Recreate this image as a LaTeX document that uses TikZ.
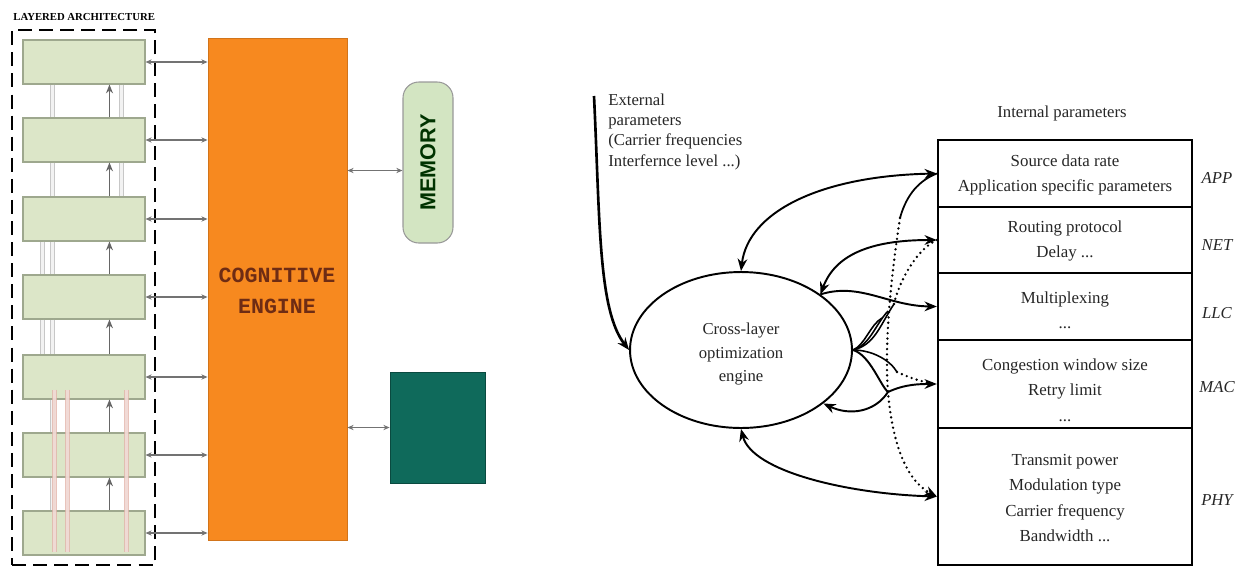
\documentclass[tikz,border=0pt]{standalone}
\usepackage{fontspec}
\setmainfont{Liberation Serif}
\newfontfamily\cmono{Liberation Mono}
\newfontfamily\csans{Liberation Sans}
\usetikzlibrary{arrows.meta,fit,shapes.geometric,calc}
\definecolor{boxgreen}{HTML}{DCE6C8}
\definecolor{boxedge}{HTML}{9EA88E}
\definecolor{engorange}{HTML}{F7891F}
\definecolor{engtext}{HTML}{6E2C14}
\definecolor{memfill}{HTML}{D3E5C2}
\definecolor{tealbox}{HTML}{0F6A5B}
\definecolor{pinkline}{HTML}{E2B4AA}
\begin{document}
\begin{tikzpicture}[x=0.02cm,y=-0.02cm,
  gbox/.style={draw=boxedge, fill=boxgreen, line width=0.6pt, inner sep=0pt},
  lbox/.style={draw=black, line width=1.3pt, inner sep=0pt},
  ltext/.style={align=center, inner sep=0pt, text=black!85, font=\fontsize{9.6}{14.5}\selectfont},
  harr/.style={{Stealth[length=3.5pt,width=3pt]}-{Stealth[length=3.5pt,width=3pt]}, draw=black!55, line width=0.8pt},
  carr/.style={-{Stealth[length=7pt,width=5.5pt]}, line width=1.1pt},
  carrb/.style={{Stealth[length=7pt,width=5.5pt]}-{Stealth[length=7pt,width=5.5pt]}, line width=1.1pt},
  dotline/.style={line width=1.5pt, dash pattern=on 0pt off 3pt, line cap=round},
  lightpair/.style={draw=black!22, double=black!5, double distance=1.6pt, line width=0.7pt},
  pinkpair/.style={draw=pinkline, double=pinkline!40, double distance=1.4pt, line width=0.7pt, opacity=0.8},
  uparr/.style={-{Stealth[length=5pt,width=4pt]}, draw=black!60, line width=0.9pt},
  layerlab/.style={font=\itshape\fontsize{9.5}{11}\selectfont, text=black!85}
]
\useasboundingbox (0,0) rectangle (1244,569);

% ---------------- left panel ----------------
\node[font=\bfseries\fontsize{6.1}{6.5}\selectfont, inner sep=0pt, anchor=west] (ttl) at (13,17) {LAYERED ARCHITECTURE};
\node[draw, line width=1.3pt, dash pattern=on 8pt off 4pt, inner sep=0pt, fit={(12,30)(155,565)}] (la) {};
\foreach \i/\t in {1/40,2/118,3/197,4/275,5/355,6/433,7/511}
  \node[gbox, fit={(23,\t)(145,\t+44)}] (b\i) {};

\foreach \i/\j in {1/2,2/3,3/4,4/5,5/6,6/7}{
  \draw[lightpair] ($(b\i.south west)+(30,0)$) -- ($(b\j.north west)+(30,0)$);
  \draw[uparr] ($(b\j.north west)+(87,0)$) -- ($(b\i.south west)+(87,0)$);
}
\foreach \i/\j in {1/2,2/3}
  \draw[lightpair] ($(b\i.south west)+(99,0)$) -- ($(b\j.north west)+(99,0)$);
\foreach \i/\j in {3/4,4/5}
  \draw[lightpair] ($(b\i.south west)+(20,0)$) -- ($(b\j.north west)+(20,0)$);
\foreach \o in {32,45,104}
  \draw[pinkpair] ($(b5.south west)+(\o,-10)$) -- ($(b7.south west)+(\o,-4)$);

\node[fill=engorange, draw=engorange!85!black, line width=0.5pt, inner sep=0pt, fit={(208,38)(347,540)}] (ce) {};
\node[font=\cmono\bfseries\fontsize{12.3}{18}\selectfont, text=engtext, align=center] (cet) at (277,291) {COGNITIVE\\ENGINE};

\foreach \i in {1,...,7}
  \draw[harr] (b\i.east) -- (b\i.east -| ce.west);

\node[fill=memfill, draw=black!40, line width=0.6pt, rounded corners=9pt, inner sep=0pt, fit={(403,82)(453,243)}] (mem) {};
\node[rotate=90, font=\csans\bfseries\fontsize{12.3}{13}\selectfont, text=black!80!green] (memt) at (mem.center) {MEMORY};
\coordinate (mA) at ($(mem.west)+(0,8)$);
\draw[harr] (mA -| ce.east) -- (mA);

\node[fill=tealbox, draw=tealbox!70!black, line width=0.5pt, inner sep=0pt, fit={(390,372)(485,483)}] (tb) {};
\draw[harr] (tb.west -| ce.east) -- (tb.west);

% ---------------- right panel ----------------
\node[anchor=north west, align=left, inner sep=0pt, text=black!85, font=\fontsize{9.5}{11.4}\selectfont] (ext) at (608,94) {External\\parameters\\(Carrier frequencies\\Interfernce level ...)};
\coordinate (xs) at (594,96);

\node[ellipse, draw, line width=1.1pt, minimum width=4.44cm, minimum height=3.12cm, inner sep=0pt] (eng) at (741,350) {};
\node[ltext, font=\fontsize{9.5}{13.6}\selectfont] (engt) at (741,354) {Cross-layer\\optimization\\engine};
\draw[carr, line width=1.5pt] (xs) .. controls (600,220) and (598,310) .. (eng.west);

\node[font=\fontsize{9.5}{11}\selectfont, text=black!85] (ip) at (1062,113) {Internal parameters};

\node[lbox, fit={(938,140)(1192,207)}] (app) {};
\node[lbox, fit={(938,207)(1192,273)}] (net) {};
\node[lbox, fit={(938,273)(1192,340)}] (llc) {};
\node[lbox, fit={(938,340)(1192,428)}] (mac) {};
\node[lbox, fit={(938,428)(1192,565)}] (phy) {};
\node[ltext] (appt) at (1065,175) {Source data rate\\Application specific parameters};
\node[ltext] (nett) at (1065,241) {Routing protocol\\Delay ...};
\node[ltext] (llct) at (1065,310) {Multiplexing\\...};
\node[ltext] (mact) at (1065,390) {Congestion window size\\Retry limit\\...};
\node[ltext] (phyt) at (1065,498) {Transmit power\\Modulation type\\Carrier frequency\\Bandwidth ...};

\node[layerlab] (lapp) at (1217,178) {APP};
\node[layerlab] (lnet) at (1217,245) {NET};
\node[layerlab] (lllc) at (1217,313) {LLC};
\node[layerlab] (lmac) at (1217,387) {MAC};
\node[layerlab] (lphy) at (1217,500) {PHY};

\coordinate (j) at (888,392);
\coordinate (d0) at (900,218);
\coordinate (s1) at (897,372);
\coordinate (f1) at (882,318);
\coordinate (f2) at (888,311);
\coordinate (f3) at (894,304);

\draw[carrb] (eng.north) .. controls (748,212) and (820,176) .. (app.west);
\draw[carrb] (eng.35) .. controls (835,255) and (870,240) .. (net.west);
\draw[carr] (eng.35) .. controls (860,282) and (888,306) .. (llc.west);
\foreach \f/\c in {f1/865,f2/870,f3/875}
  \draw[line width=0.9pt] (eng.east) .. controls (\c,345) and (\c+5,325) .. (\f);
\draw[line width=0.9pt] (eng.east) .. controls (872,350) and (890,360) .. (s1);
\draw[line width=1.1pt] (eng.east) .. controls (870,355) and (880,385) .. (j);
\draw[carr] (j) .. controls (905,384) and (920,384) .. (mac.west);
\draw[carr] (j) .. controls (875,412) and (850,416) .. (eng.-33);
\draw[carrb] (eng.south) .. controls (752,472) and (850,494) .. (phy.west);
\draw[line width=1pt] (d0) .. controls (905,200) and (915,182) .. (app.west);
\draw[dotline, -{Stealth[length=7pt,width=5.5pt]}] (d0) .. controls (892,270) and (884,340) .. (j) .. controls (892,440) and (905,480) .. (phy.west);
\draw[dotline] (net.west) .. controls (915,250) and (898,285) .. (f3);
\draw[dotline] (s1) .. controls (910,378) and (925,383) .. (mac.west);
\end{tikzpicture}
\end{document}
